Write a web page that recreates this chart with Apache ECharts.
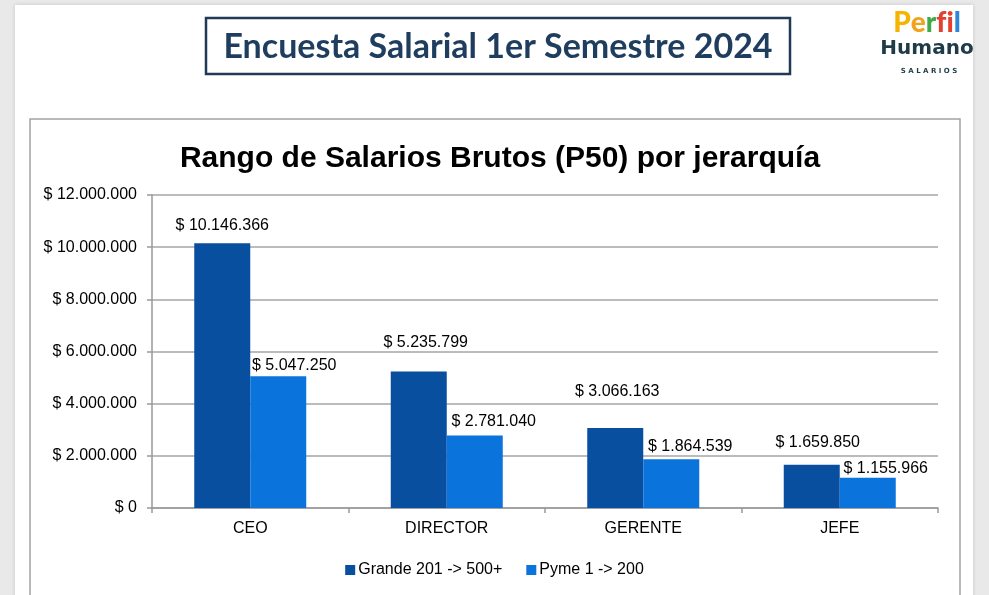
<!DOCTYPE html>
<html>
<head>
<meta charset="utf-8">
<title>Encuesta Salarial 1er Semestre 2024</title>
<script src="https://cdn.jsdelivr.net/npm/echarts@6/dist/echarts.min.js"></script>
<style>
  html, body { margin: 0; padding: 0; background: #e9e9e9; }
  #chartDiv { width: 989px; height: 595px; }
</style>
</head>
<body>
<div id="chartDiv"></div>
<script>
// datos
var jerarquias = ['CEO', 'DIRECTOR', 'GERENTE', 'JEFE'];
var grande = [10146366, 5235799, 3066163, 1659850];
var pyme = [5047250, 2781040, 1864539, 1155966];
var nombres = ['Grande 201 -> 500+', 'Pyme 1 -> 200'];

// desplazamiento de las etiquetas (colocadas a mano en el original)
var despGrande = [[0, -10], [7, -21], [2, -28], [6, -14]];
var despPyme = [[16, -3], [19, -6], [19, -5], [18, -1]];

function pesos(v) {
    var s = String(Math.round(v)).replace(/\B(?=(\d{3})+(?!\d))/g, '.');
    return '$ ' + s;
}

function conEtiqueta(valores, desp) {
    return valores.map(function (v, i) {
        return { value: v, label: { offset: desp[i] } };
    });
}

var arial = '"Liberation Sans", Arial, sans-serif';

var option = {
    backgroundColor: '#e9e9e9',
    animation: false,
    title: {
        text: 'Rango de Salarios Brutos (P50) por jerarquía',
        left: 495,
        textAlign: 'center',
        top: 139,
        textStyle: {
            fontFamily: arial,
            fontWeight: 'bold',
            fontSize: 30,
            color: '#000'
        }
    },
    graphic: [
        // hoja blanca
        {
            type: 'rect', z: -10, silent: true,
            shape: { x: 15, y: 5, width: 958, height: 610 },
            style: { fill: '#fff', shadowBlur: 4, shadowColor: 'rgba(0,0,0,0.15)' }
        },
        // marco del grafico
        {
            type: 'rect', z: -9, silent: true,
            shape: { x: 30, y: 119, width: 930, height: 480 },
            style: { fill: '#fff', stroke: '#a3a3a3', lineWidth: 1.5 }
        },
        // caja del titulo
        {
            type: 'rect', silent: true,
            shape: { x: 206, y: 18, width: 584, height: 56 },
            style: { fill: '#fff', stroke: '#1f3b57', lineWidth: 2.5 }
        },
        {
            type: 'text', silent: true, x: 498, y: 47,
            style: {
                text: 'Encuesta Salarial 1er Semestre 2024',
                fill: '#1f3d5e',
                font: 'bold 34px Lato, "Open Sans", sans-serif',
                align: 'center',
                verticalAlign: 'middle'
            }
        },
        // logo
        {
            type: 'text', silent: true, x: 927, y: 23,
            style: {
                text: '{p|P}{e|e}{r|r}{f|f}{i|i}{l|l}',
                align: 'center',
                verticalAlign: 'middle',
                rich: {
                    p: { fill: '#f5b400', font: '900 28px Lato, sans-serif' },
                    e: { fill: '#f2a31b', font: '900 28px Lato, sans-serif' },
                    r: { fill: '#3faa48', font: '900 28px Lato, sans-serif' },
                    f: { fill: '#e5402f', font: '900 28px Lato, sans-serif' },
                    i: { fill: '#e5402f', font: '900 28px Lato, sans-serif' },
                    l: { fill: '#2f86d6', font: '900 28px Lato, sans-serif' }
                }
            }
        },
        {
            type: 'text', silent: true, x: 927, y: 49,
            style: {
                text: 'Humano',
                fill: '#1f3b47',
                font: 'bold 20px "DejaVu Sans", sans-serif',
                align: 'center',
                verticalAlign: 'middle'
            }
        },
        {
            type: 'text', silent: true, x: 929, y: 71,
            style: {
                text: 'S A L A R I O S',
                fill: '#1f3b47',
                font: 'bold 7px "DejaVu Sans", sans-serif',
                align: 'center',
                verticalAlign: 'middle'
            }
        }
    ],
    legend: {
        data: nombres,
        top: 557,
        left: 'center',
        icon: 'rect',
        itemWidth: 10,
        itemHeight: 10,
        itemGap: 24,
        textStyle: { fontFamily: arial, fontSize: 16, color: '#000', padding: [0, 0, 0, -2] }
    },
    grid: {
        left: 152,
        right: 51,
        top: 195,
        bottom: 87
    },
    xAxis: {
        type: 'category',
        data: jerarquias,
        axisLine: { lineStyle: { color: '#999', width: 1.5 } },
        axisTick: { show: true, length: 5, lineStyle: { color: '#999', width: 1.5 } },
        axisLabel: { fontFamily: arial, fontSize: 16, color: '#000', margin: 13 }
    },
    yAxis: {
        type: 'value',
        min: 0,
        max: 12000000,
        interval: 2000000,
        axisLine: { show: true, lineStyle: { color: '#999', width: 1.5 } },
        axisTick: { show: true, length: 5, lineStyle: { color: '#999', width: 1.5 } },
        splitLine: { lineStyle: { color: '#a6a6a6', width: 1.5 } },
        axisLabel: {
            fontFamily: arial, fontSize: 16, color: '#000', margin: 15,
            formatter: pesos
        }
    },
    series: [
        {
            name: nombres[0],
            type: 'bar',
            data: conEtiqueta(grande, despGrande),
            barGap: '0%',
            barCategoryGap: '43%',
            itemStyle: { color: '#084f9f' },
            label: {
                show: true,
                position: 'top',
                distance: 0,
                fontFamily: arial,
                fontSize: 16,
                color: '#000',
                formatter: function (p) { return pesos(p.value); }
            }
        },
        {
            name: nombres[1],
            type: 'bar',
            data: conEtiqueta(pyme, despPyme),
            itemStyle: { color: '#0b73dc' },
            label: {
                show: true,
                position: 'top',
                distance: 0,
                fontFamily: arial,
                fontSize: 16,
                color: '#000',
                formatter: function (p) { return pesos(p.value); }
            }
        }
    ]
};

var myChart = echarts.init(document.getElementById('chartDiv'));
myChart.setOption(option);
</script>
</body>
</html>
